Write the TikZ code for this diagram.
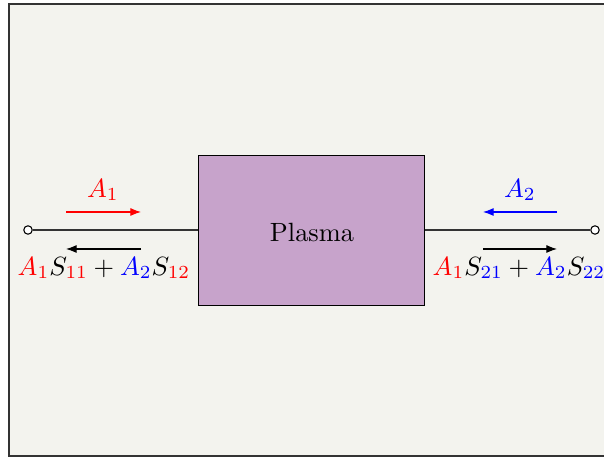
\documentclass[tikz,border=0pt]{standalone}
\usetikzlibrary{arrows.meta}
\definecolor{bgc}{RGB}{243,243,238}
\definecolor{boxc}{RGB}{199,163,203}
\begin{document}
\begin{tikzpicture}[x=0.379pt,y=-0.379pt,
  thinline/.style={line width=0.4pt,draw=black!80},
  arr/.style={-{Latex[length=4pt,width=3pt]},line width=0.4pt},
  term/.style={circle,draw,fill=white,inner sep=0pt,minimum size=3.2pt,line width=0.4pt},
  lab/.style={inner sep=0pt}]
\useasboundingbox (0,0) rectangle (604,458);
\begin{scope}
\clip (0,0) rectangle (604,458);
\draw[fill=bgc,draw=black!80,line width=0.5pt] (9,4) rectangle (640,456);
\end{scope}
\node[draw,fill=boxc,line width=0.4pt,minimum width=86pt,minimum height=57.2pt,inner sep=0pt] (plasma) at (311.5,230.5) {};
\node[lab] (ptext) at (312,232) {Plasma};
\node[term] (lp) at (28,230) {};
\node[term] (rp) at (595,230) {};
\draw[thinline] (lp) -- (lp -| plasma.west);
\draw[thinline] (rp) -- (rp -| plasma.east);
\coordinate (l1) at (66,212); \coordinate (l2) at (141,212);
\coordinate (l3) at (141,249); \coordinate (l4) at (66,249);
\coordinate (r1) at (557,212); \coordinate (r2) at (483,212);
\coordinate (r3) at (483,249); \coordinate (r4) at (557,249);
\draw[arr,red] (l1) -- (l2);
\draw[arr] (l3) -- (l4);
\draw[arr,blue] (r1) -- (r2);
\draw[arr] (r3) -- (r4);
\node[lab,text=red] (a1) at (103,190) {$A_1$};
\node[lab,text=blue] (a2) at (520,190) {$A_2$};
\node[lab] (b1) at (104,268) {$\color{red}A_1\color{black}S_{\color{red}11}+\color{blue}A_2\color{black}S_{\color{red}12}$};
\node[lab] (b2) at (519,268) {$\color{red}A_1\color{black}S_{\color{blue}21}+\color{blue}A_2\color{black}S_{\color{blue}22}$};
\end{tikzpicture}
\end{document}
